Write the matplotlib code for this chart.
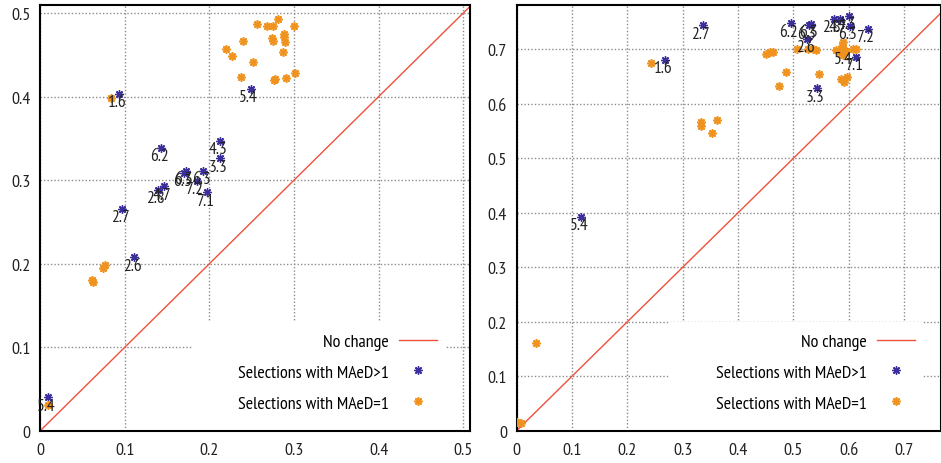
import matplotlib
matplotlib.use("Agg")
import matplotlib.pyplot as plt
from matplotlib.patches import Rectangle

plt.rcParams['font.family'] = ['PT Sans Narrow', 'DejaVu Sans']

# selection labels, shared by both panels
labels = ["1.6", "2.6", "2.7", "2.8", "3.3", "4.3", "4.7", "5.4", "5.4",
          "6.2", "6.3", "6.3", "6.3", "7.1", "7.2"]

# left panel: selections with MAeD>1 (before, after)
left_multi_x = [0.0934, 0.111, 0.0969, 0.1388, 0.2128, 0.2128, 0.1466, 0.2486, 0.0095,
                0.143, 0.172, 0.170, 0.1927, 0.1974, 0.1849]
left_multi_y = [0.403, 0.2076, 0.266, 0.288, 0.326, 0.347, 0.2927, 0.409, 0.040,
                0.3385, 0.311, 0.309, 0.311, 0.2855, 0.2994]

# left panel: selections with MAeD=1
left_single_x = [0.0831, 0.2558, 0.2676, 0.2747, 0.2813, 0.2999, 0.2884, 0.2884, 0.2896,
                 0.240, 0.2191, 0.227, 0.2754, 0.274, 0.2865, 0.2518, 0.2369, 0.2774,
                 0.2760, 0.2904, 0.3007, 0.0745, 0.0764, 0.0607, 0.0626, 0.0095]
left_single_y = [0.398, 0.487, 0.4843, 0.4843, 0.493, 0.4843, 0.475, 0.471, 0.4651,
                 0.466, 0.457, 0.448, 0.467, 0.470, 0.453, 0.441, 0.4232, 0.4212,
                 0.420, 0.422, 0.4284, 0.195, 0.198, 0.181, 0.178, 0.031]

# right panel: selections with MAeD>1
right_multi_x = [0.2684, 0.5253, 0.3357, 0.5727, 0.5433, 0.5998, 0.5848, 0.1167, 0.594,
                 0.4952, 0.5313, 0.528, 0.6017, 0.6137, 0.6347]
right_multi_y = [0.680, 0.7187, 0.744, 0.7554, 0.628, 0.7615, 0.7554, 0.3927, 0.6967,
                 0.7474, 0.7462, 0.744, 0.743, 0.686, 0.737]

# right panel: selections with MAeD=1
right_single_x = [0.2419, 0.3321, 0.3321, 0.3532, 0.3616, 0.0349, 0.0012, 0.0072, 0.4503,
                  0.4585, 0.4633, 0.486, 0.474, 0.5066, 0.526, 0.5355, 0.540, 0.5462,
                  0.5776, 0.5824, 0.5897, 0.5897, 0.5957, 0.6076, 0.6137, 0.5866,
                  0.5914, 0.5975, 0.587, 0.590]
right_single_y = [0.6746, 0.567, 0.5596, 0.5456, 0.5706, 0.1602, 0.0153, 0.0141, 0.691,
                  0.694, 0.694, 0.659, 0.632, 0.700, 0.700, 0.700, 0.699, 0.6545,
                  0.699, 0.694, 0.7127, 0.700, 0.697, 0.700, 0.700, 0.6453,
                  0.639, 0.6495, 0.705, 0.690]

no_change = [0, 1]

BLUE = "#3b2f9c"
ORANGE = "#f0921e"
RED = "#f0503c"
STAR = (8, 2, 0)


def draw_panel(ax, mx, my, sx, sy, lim, ticks, legend_right, box_x):
    ax.set_axisbelow(True)
    ax.grid(True, color="#8c8c8c", linestyle=(0, (1, 1.5)), linewidth=1)
    # gnuplot-style opaque key background
    ax.add_patch(Rectangle((box_x[0], 0), box_x[1] - box_x[0], 0.255,
                           transform=ax.transAxes, facecolor="white",
                           edgecolor="none", zorder=1))

    ax.plot(no_change, no_change, color=RED, linewidth=1, label="No change", zorder=2)
    ax.plot(mx, my, linestyle="none", marker=STAR, color=BLUE, markersize=6,
            markeredgewidth=1.0, label="Selections with MAeD>1", zorder=3)
    ax.plot(sx, sy, linestyle="none", marker=STAR, color=ORANGE, markersize=6,
            markeredgewidth=1.2, label="Selections with MAeD=1", zorder=4)
    for x, y, t in zip(mx, my, labels):
        ax.annotate(t, (x, y), xytext=(-1.5, -6), textcoords="offset points",
                    ha="center", va="center", fontsize=12.5, color="#222222", zorder=5)

    ax.set_xlim(0, lim[0])
    ax.set_ylim(0, lim[1])
    ax.set_xticks(ticks)
    ax.set_yticks(ticks)
    ax.set_xticklabels([f"{t:g}" for t in ticks])
    ax.set_yticklabels([f"{t:g}" for t in ticks])
    ax.tick_params(direction="in", length=0, labelsize=13, colors="#222222")
    ax.tick_params(axis="x", pad=8)
    ax.tick_params(axis="y", pad=7)
    for s in ax.spines.values():
        s.set_linewidth(1.5)

    leg = ax.legend(loc="lower right", bbox_to_anchor=(legend_right, 0.045),
                    markerfirst=False, frameon=False, fontsize=13,
                    handlelength=2.1, handletextpad=0.55, labelspacing=0.78,
                    borderpad=0, borderaxespad=0)
    leg.set_zorder(6)


fig = plt.figure(figsize=(9.41, 4.64), dpi=100)
ax1 = fig.add_axes([40.3 / 941, 32.3 / 464, 429.7 / 941, 426 / 464])
ax2 = fig.add_axes([516.7 / 941, 32.3 / 464, 424.0 / 941, 426 / 464])

draw_panel(ax1, left_multi_x, left_multi_y, left_single_x, left_single_y,
           (0.508, 0.510), [0, 0.1, 0.2, 0.3, 0.4, 0.5], 0.923, (0.355, 0.942))
draw_panel(ax2, right_multi_x, right_multi_y, right_single_x, right_single_y,
           (0.766, 0.7817), [0, 0.1, 0.2, 0.3, 0.4, 0.5, 0.6, 0.7], 0.9387, (0.361, 0.957))

fig.savefig("out.png", dpi=100)
